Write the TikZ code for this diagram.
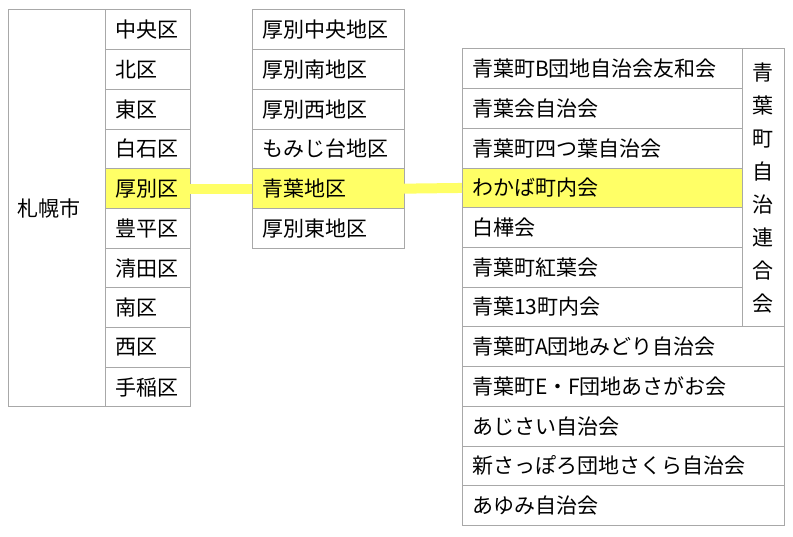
\documentclass[tikz,border=0pt]{standalone}
\usepackage{fontspec}
\setmainfont{Noto Sans CJK JP}
\usepackage{tikz}
\definecolor{cellgrey}{RGB}{168,168,168}
\definecolor{markyellow}{RGB}{255,255,102}
\tikzset{
    cell/.style={draw=cellgrey, line width=1pt, anchor=north west, minimum height=39.7pt,
        inner xsep=10pt, inner ysep=0pt, outer sep=0pt, align=left,
        font=\fontsize{21}{25}\selectfont},
    usual/.style={},
    picked/.style={fill=markyellow},
    link/.style={draw=markyellow, line width=10pt}
}

\begin{document}
\begin{tikzpicture}[x=1pt, y=-1pt]
\useasboundingbox (0,0) rectangle (793,537);
\node[cell, text width=79pt, minimum height=397pt, inner xsep=9pt] (city) at (8,10) {札幌市};
\foreach \ward/\look [count=\i] in {中央区/usual, 北区/usual, 東区/usual, 白石区/usual, 厚別区/picked,
    豊平区/usual, 清田区/usual, 南区/usual, 西区/usual, 手稲区/usual}
    \node[cell, \look, text width=65pt] (ward\i) at (105,{10+(\i-1)*39.7}) {\ward};
\foreach \area/\look [count=\i] in {厚別中央地区/usual, 厚別南地区/usual, 厚別西地区/usual,
    もみじ台地区/usual, 青葉地区/picked, 厚別東地区/usual}
    \node[cell, \look, text width=132pt] (area\i) at (252,{10+(\i-1)*39.7}) {\area};
\foreach \assoc/\look [count=\i] in {青葉町B団地自治会友和会/usual, 青葉会自治会/usual,
    青葉町四つ葉自治会/usual, わかば町内会/picked, 白樺会/usual, 青葉町紅葉会/usual, 青葉13町内会/usual}
    \node[cell, \look, text width=260pt] (assoc\i) at (462,{49+(\i-1)*39.7}) {\assoc};
\foreach \assoc [count=\i from 8] in {青葉町A団地みどり自治会, 青葉町E・F団地あさがお会,
    あじさい自治会, 新さっぽろ団地さくら自治会, あゆみ自治会}
    \node[cell, text width=302pt] (assoc\i) at (462,{49+(\i-1)*39.7}) {\assoc};
\node[cell, text width=42pt, inner xsep=0pt, minimum height=277.9pt, align=center,
    font=\fontsize{21}{33}\selectfont] (union) at (742,49)
    {青\\葉\\町\\自\\治\\連\\合\\会};
\draw[link] (ward5.east) -- (area5.west);
\draw[link] (area5.east) -- (assoc4.west);
\end{tikzpicture}
\end{document}
